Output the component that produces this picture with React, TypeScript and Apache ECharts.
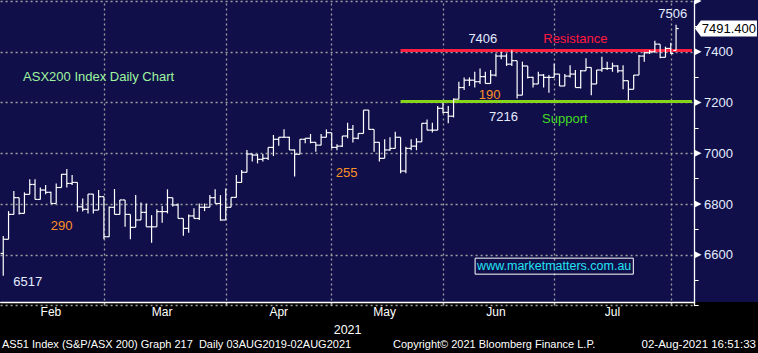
import React, { useEffect, useRef } from 'react';
import * as echarts from 'echarts';

// ---- data ----
const openV = [
  6605, 6661, 6759, 6825, 6763, 6838, 6877, 6818, 6855, 6846, 6802, 6865, 6917, 6881, 6885, 6789, 6779, 6839, 6776, 6829,
  6671, 6787, 6759, 6816, 6759, 6708, 6737, 6767, 6710, 6710, 6770, 6770, 6825, 6796, 6743, 6704, 6753, 6743, 6787, 6787, 6825, 6802, 6737,
  6787, 6826, 6885, 6925, 6997, 6993, 6976, 6980, 7023, 7055, 7063, 7063, 7013, 6996, 7055, 7059, 7043, 7032, 7063, 7081,
  7023, 7028, 7068, 7094, 7059, 7078, 7170, 7094, 7043, 6980, 7013, 7019, 7063, 6930, 7019, 7028, 7045, 7118, 7091, 7091, 7177,
  7161, 7146, 7213, 7259, 7288, 7288, 7282, 7302, 7275, 7308, 7383, 7383, 7351, 7365, 7229, 7344, 7299, 7273, 7308, 7299, 7299,
  7312, 7265, 7304, 7312, 7259, 7325, 7338, 7273, 7328, 7334, 7334, 7344, 7325, 7286, 7252, 7308, 7383, 7396, 7400, 7430, 7378, 7413,
  7405,
];
const highV = [
  6674, 6772, 6851, 6825, 6846, 6898, 6898, 6865, 6875, 6848, 6881, 6918, 6938, 6914, 6885, 6822, 6839, 6839, 6855, 6829,
  6790, 6859, 6816, 6816, 6759, 6835, 6806, 6802, 6756, 6779, 6792, 6858, 6825, 6802, 6743, 6759, 6783, 6802, 6802, 6835, 6858, 6835, 6861,
  6826, 6914, 6934, 7013, 6997, 6997, 6997, 7023, 7072, 7063, 7095, 7065, 7015, 7055, 7059, 7076, 7043, 7076, 7094, 7081,
  7035, 7068, 7120, 7111, 7078, 7170, 7170, 7094, 7043, 7055, 7063, 7085, 7063, 7026, 7055, 7059, 7118, 7133, 7120, 7186, 7199,
  7186, 7216, 7282, 7299, 7299, 7321, 7334, 7321, 7328, 7393, 7400, 7393, 7406, 7365, 7361, 7344, 7301, 7321, 7312, 7308, 7354,
  7312, 7312, 7347, 7328, 7328, 7374, 7338, 7328, 7380, 7361, 7357, 7347, 7347, 7286, 7308, 7387, 7400, 7407, 7443, 7430, 7420, 7435,
  7506,
];
const lowV = [
  6517, 6661, 6759, 6759, 6763, 6838, 6818, 6818, 6838, 6802, 6802, 6865, 6865, 6875, 6770, 6770, 6763, 6763, 6776, 6661,
  6671, 6759, 6759, 6710, 6661, 6708, 6737, 6710, 6647, 6710, 6726, 6763, 6790, 6743, 6675, 6687, 6743, 6737, 6772, 6787, 6802, 6734, 6737,
  6787, 6826, 6885, 6925, 6967, 6960, 6967, 6973, 6989, 7030, 7063, 7013, 6908, 6996, 7039, 7039, 7006, 7032, 7063, 7019,
  7012, 7025, 7059, 7042, 7055, 7078, 7094, 7006, 6967, 6980, 7010, 7019, 6921, 6921, 7012, 7012, 7045, 7091, 7082, 7091, 7157,
  7118, 7141, 7213, 7249, 7265, 7259, 7273, 7275, 7275, 7302, 7370, 7344, 7344, 7216, 7229, 7295, 7259, 7273, 7259, 7238, 7299,
  7265, 7265, 7299, 7259, 7255, 7325, 7229, 7273, 7321, 7328, 7321, 7317, 7252, 7207, 7252, 7308, 7361, 7391, 7396, 7374, 7378, 7391,
  7405,
];
const closeV = [
  6661, 6759, 6825, 6763, 6838, 6877, 6818, 6855, 6846, 6802, 6865, 6917, 6881, 6885, 6789, 6779, 6839, 6776, 6829, 6671,
  6787, 6759, 6816, 6759, 6708, 6737, 6767, 6710, 6710, 6770, 6770, 6825, 6796, 6743, 6704, 6753, 6743, 6787, 6787, 6825, 6802, 6737, 6787,
  6826, 6885, 6925, 6997, 6993, 6976, 6980, 7023, 7055, 7063, 7063, 7013, 6996, 7055, 7059, 7043, 7032, 7063, 7081, 7023,
  7028, 7068, 7094, 7059, 7078, 7170, 7094, 7043, 6980, 7013, 7019, 7063, 6930, 7019, 7028, 7045, 7118, 7091, 7091, 7177, 7161,
  7146, 7213, 7259, 7288, 7288, 7282, 7302, 7275, 7308, 7383, 7383, 7351, 7365, 7229, 7344, 7299, 7273, 7308, 7299, 7299, 7312,
  7265, 7304, 7312, 7259, 7325, 7338, 7273, 7328, 7334, 7334, 7344, 7325, 7286, 7252, 7308, 7383, 7396, 7400, 7430, 7378, 7413, 7393,
  7491.4,
];
const holidays = ['2021-04-02', '2021-04-05', '2021-06-14'];
const monthNames = ['Jan', 'Feb', 'Mar', 'Apr', 'May', 'Jun', 'Jul', 'Aug', 'Sep', 'Oct', 'Nov', 'Dec'];
const yMin = 6400;
const yMax = 7600;
const yStep = 200;
const yTickValues = [6600, 6800, 7000, 7200, 7400, 7600];
const resistanceLevel = 7406;
const supportLevel = 7203;
const yearLabel = '2021';

// trading-day categories (Feb 1 2021 onward), plus three empty slots at the right edge
const categories: string[] = [];
for (let d = new Date(Date.UTC(2021, 1, 1)); categories.length < closeV.length + 3; d.setUTCDate(d.getUTCDate() + 1)) {
  const wd = d.getUTCDay();
  const s = d.toISOString().slice(0, 10);
  if (wd > 0 && wd < 6 && !holidays.includes(s)) categories.push(s);
}

const BG = '#100f4a';
const FONT = '"Liberation Sans", Arial, Helvetica, sans-serif';
const WHITE_TXT = '#e4ecff';
const ORANGE = '#ff9124';

export default function App() {
  const ref = useRef<HTMLDivElement>(null);
  useEffect(() => {
    document.body.style.margin = '0';
    if (!ref.current) return;
    const chart = echarts.init(ref.current, null, { renderer: 'svg' });

    const n = closeV.length;
    const rows = closeV.map((c, i) => [i, openV[i], highV[i], lowV[i], c]);

    const monthEnds: number[] = [];
    const labelIdx: number[] = [];
    let first = 0;
    for (let i = 0; i < n; i++) {
      const m = categories[i].slice(5, 7);
      const next = i + 1 < n ? categories[i + 1].slice(5, 7) : null;
      if (next !== m) {
        if (next !== null) monthEnds.push(i);
        if (i - first > 5) labelIdx.push(Math.floor((first + i - 1) / 2));
        first = i + 1;
      }
    }
    const endSet = new Set(monthEnds);
    const labSet = new Set(labelIdx);
    const lastIdx = categories.length - 1;

    const notes = [
      { t: '6517', i: 5, v: 6496, c: WHITE_TXT, dx: -2 },
      { t: '290', i: 11, v: 6717, c: ORANGE, dx: 0 },
      { t: '255', i: 65, v: 6926, c: ORANGE, dx: -1 },
      { t: '190', i: 92, v: 7233, c: ORANGE, dx: -1 },
      { t: '7216', i: 95, v: 7145, c: WHITE_TXT, dx: -3 },
      { t: '7406', i: 91, v: 7452, c: WHITE_TXT, dx: -2.5 },
      { t: 'Resistance', i: 108, v: 7452, c: '#ff1a3c', dx: 0 },
      { t: 'Support', i: 106, v: 7135, c: '#40dd20', dx: 0 },
      { t: '7506', i: 126, v: 7550, c: WHITE_TXT, dx: 2 },
      { t: 'ASX200 Index Daily Chart', i: 18, v: 7304, c: '#9ef59e', dx: 0 },
    ];

    const markData: any[] = notes.map((nt) => ({
      coord: [nt.i, nt.v],
      label: {
        show: true,
        position: 'inside',
        formatter: nt.t,
        color: nt.c,
        fontSize: 13,
        fontFamily: FONT,
        offset: [nt.dx, 0],
      },
    }));
    markData.push({
      coord: [104, 6555],
      label: {
        show: true,
        position: 'inside',
        formatter: 'www.marketmatters.com.au',
        color: '#22e3f2',
        fontSize: 12.5,
        fontFamily: FONT,
        borderColor: '#ffffff',
        borderWidth: 1,
        padding: [2, 2, 1, 2],
      },
    });
    // price tag for the last close
    markData.push({
      coord: [lastIdx, closeV[n - 1]],
      symbol: 'path://M0,8L6,0L62,0L62,16L6,16Z',
      symbolSize: [62, 16],
      symbolOffset: [34, 0],
      itemStyle: { color: '#ffffff' },
      label: {
        show: true,
        position: 'inside',
        formatter: closeV[n - 1].toFixed(3),
        color: '#000000',
        fontSize: 13,
        fontFamily: FONT,
        offset: [3, 0],
      },
    });
    // small white arrow heads at the major y ticks
    yTickValues.forEach((v) => {
      markData.push({
        coord: [lastIdx, v],
        symbol: 'path://M0,0L7,3.5L0,7Z',
        symbolSize: [7, 7],
        symbolOffset: [6.1, 0],
        itemStyle: { color: '#ffffff' },
        label: { show: false },
      });
    });

    const option: any = {
      animation: false,
      backgroundColor: 'transparent',
      // plot spans y 1 (7600) .. 305.5 (6400); the x axis line is lifted to y 302.3
      grid: { left: 0.6, top: 1, width: 694, height: 304.5 },
      xAxis: {
        type: 'category',
        data: categories,
        boundaryGap: true,
        offset: -3.2,
        axisLine: { show: true, lineStyle: { color: '#ffffff', width: 1.3 } },
        axisTick: {
          show: true,
          alignWithLabel: true,
          interval: (i: number) => endSet.has(i),
          length: 3,
          lineStyle: { color: '#ffffff', width: 1.3 },
        },
        axisLabel: {
          interval: (i: number) => labSet.has(i),
          formatter: (v: string) => monthNames[parseInt(v.slice(5, 7), 10) - 1],
          color: '#ffffff',
          fontSize: 12,
          fontFamily: FONT,
          margin: 4,
        },
        splitLine: { show: false },
        name: yearLabel,
        nameLocation: 'middle',
        nameGap: 19,
        nameTextStyle: { color: '#ffffff', fontSize: 12.5, fontFamily: FONT },
      },
      yAxis: {
        type: 'value',
        position: 'right',
        min: yMin,
        max: yMax,
        interval: yStep,
        axisLine: { show: true, lineStyle: { color: '#ffffff', width: 1.3 } },
        axisTick: { show: true, length: 4, lineStyle: { color: '#ffffff' } },
        minorTick: { show: true, splitNumber: 2, length: 4, lineStyle: { color: '#ffffff' } },
        minorSplitLine: { show: false },
        axisLabel: {
          margin: 9.5,
          color: WHITE_TXT,
          fontSize: 13,
          fontFamily: FONT,
          padding: [2, 0, 0, 0],
          formatter: (v: number) => (v <= yMin || v >= yMax ? '' : String(v)),
        },
        splitLine: { show: true, lineStyle: { color: '#a0a0a0', type: [2, 3], width: 1.3 } },
      },
      series: [
        {
          type: 'line',
          data: [],
          z: 1,
          silent: true,
          markLine: {
            silent: true,
            symbol: ['none', 'none'],
            label: { show: false },
            lineStyle: { color: '#a0a0a0', type: [2, 3], width: 1.3 },
            data: monthEnds.map((i) => ({ xAxis: i })),
          },
        },
        {
          type: 'custom',
          z: 5,
          data: rows,
          encode: { x: 0, y: [1, 2, 3, 4] },
          renderItem: (params: any, api: any) => {
            const idx = api.value(0);
            const o = api.coord([idx, api.value(1)]);
            const h = api.coord([idx, api.value(2)]);
            const l = api.coord([idx, api.value(3)]);
            const c = api.coord([idx, api.value(4)]);
            const half = api.size([1, 0])[0] / 2;
            const x = o[0];
            const st = { stroke: '#ffffff', lineWidth: 1.2 };
            return {
              type: 'group',
              children: [
                { type: 'line', shape: { x1: x, y1: h[1], x2: x, y2: l[1] }, style: st },
                { type: 'line', shape: { x1: x - half, y1: o[1], x2: x, y2: o[1] }, style: st },
                { type: 'line', shape: { x1: x, y1: c[1], x2: x + half, y2: c[1] }, style: st },
              ],
            };
          },
          markLine: {
            silent: true,
            symbol: ['none', 'none'],
            label: { show: false },
            data: [
              [
                { coord: [75, resistanceLevel], lineStyle: { color: '#ff1f40', width: 3, type: 'solid' } },
                { coord: [lastIdx, resistanceLevel] },
              ],
              [
                { coord: [75, supportLevel], lineStyle: { color: '#86d51a', width: 3, type: 'solid' } },
                { coord: [lastIdx, supportLevel] },
              ],
            ],
          },
          markPoint: {
            silent: true,
            symbol: 'rect',
            symbolSize: 1,
            itemStyle: { color: 'rgba(0,0,0,0)' },
            data: markData,
          },
        },
      ],
      graphic: [
        {
          type: 'text',
          x: 2,
          y: 343.5,
          style: {
            text: 'AS51 Index (S&P/ASX 200) Graph 217\u00a0 Daily 03AUG2019-02AUG2021',
            fill: '#ffffff',
            fontSize: 11,
            fontFamily: FONT,
            verticalAlign: 'middle',
            textVerticalAlign: 'middle',
          },
        },
        {
          type: 'text',
          x: 393,
          y: 343.5,
          style: {
            text: 'Copyright\u00a9 2021 Bloomberg Finance L.P.',
            fill: '#ffffff',
            fontSize: 11,
            fontFamily: FONT,
            verticalAlign: 'middle',
            textVerticalAlign: 'middle',
          },
        },
        {
          type: 'text',
          x: 756,
          y: 343.5,
          style: {
            text: '02-Aug-2021 16:51:33',
            fill: '#ffffff',
            fontSize: 11.5,
            fontFamily: FONT,
            align: 'right',
            textAlign: 'right',
            verticalAlign: 'middle',
            textVerticalAlign: 'middle',
          },
        },
      ],
    };

    chart.setOption(option);
    return () => chart.dispose();
  }, []);

  return (
    <div style={{ position: 'relative', width: 758, height: 353, background: '#000000' }}>
      <div style={{ position: 'absolute', left: 0, top: 0, width: 758, height: 302.3, background: BG }} />
      <div ref={ref} style={{ position: 'absolute', left: 0, top: 0, width: 758, height: 353 }} />
    </div>
  );
}
